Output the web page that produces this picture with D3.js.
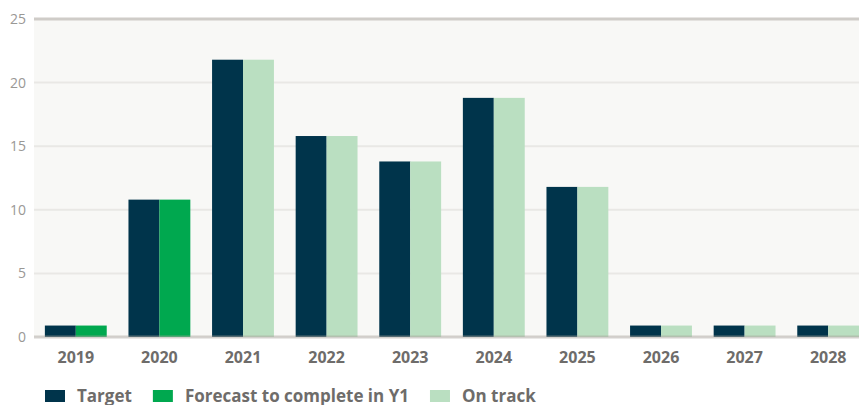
<!DOCTYPE html>
<html>
<head>
<meta charset="utf-8">
<script src="https://cdn.jsdelivr.net/npm/d3@7"></script>
<style>
  body { margin: 0; background: #fff; font-family: "Open Sans", "Noto Sans", sans-serif; }
  svg { display: block; }
</style>
</head>
<body>
<svg id="chart"></svg>
<script>
const years    = ["2019", "2020", "2021", "2022", "2023", "2024", "2025", "2026", "2027", "2028"];
const target   = [0.9, 10.8, 21.8, 15.8, 13.8, 18.8, 11.8, 0.9, 0.9, 0.9];
// second bar: "forecast" for 2019-2020, "on track" after
const second   = [0.9, 10.8, 21.8, 15.8, 13.8, 18.8, 11.8, 0.9, 0.9, 0.9];
const secondKey = ["forecast", "forecast", "track", "track", "track", "track", "track", "track", "track", "track"];
const yTicks   = [0, 5, 10, 15, 20, 25];

const colors = { target: "#00344b", forecast: "#00a84f", track: "#badfc1" };
const legendItems = [
  { key: "target",   label: "Target" },
  { key: "forecast", label: "Forecast to complete in Y1" },
  { key: "track",    label: "On track" },
];

const W = 859, H = 405;
const plotLeft = 34, plotTop = 19, plotBottom = 337;

const svg = d3.select("#chart").attr("width", W).attr("height", H);

const x = d3.scaleBand().domain(years).range([plotLeft, 870]).paddingInner(0.26).paddingOuter(0.13);
const x1 = d3.scaleBand().domain([0, 1]).range([0, x.bandwidth()]);
const y = d3.scaleLinear().domain([0, 25]).range([plotBottom, plotTop]);

svg.append("clipPath").attr("id", "clip")
  .append("rect").attr("x", plotLeft).attr("y", 0).attr("width", W - plotLeft).attr("height", H);

svg.append("rect")
  .attr("x", plotLeft).attr("y", y(25))
  .attr("width", W - plotLeft).attr("height", y(0) - y(25))
  .attr("fill", "#f8f8f6");

// grid lines
svg.append("g").selectAll("line")
  .data(yTicks.filter(t => t > 0 && t < 25))
  .join("line")
  .attr("x1", plotLeft).attr("x2", W)
  .attr("y1", d => y(d)).attr("y2", d => y(d))
  .attr("stroke", "#e9e8e5").attr("stroke-width", 2);

svg.append("line")
  .attr("x1", plotLeft).attr("x2", W)
  .attr("y1", y(25)).attr("y2", y(25))
  .attr("stroke", "#cfccc8").attr("stroke-width", 3);

// y tick labels
svg.append("g").selectAll("text")
  .data(yTicks)
  .join("text")
  .attr("x", 26).attr("y", d => y(d))
  .attr("dy", "0.35em")
  .attr("text-anchor", "end")
  .attr("fill", "#9a9895")
  .style("font-size", "14px")
  .text(d => d);

// bars
const groups = svg.append("g").attr("clip-path", "url(#clip)")
  .selectAll("g")
  .data(years)
  .join("g")
  .attr("transform", d => `translate(${x(d)},0)`);

groups.append("rect")
  .attr("x", x1(0)).attr("width", x1.bandwidth())
  .attr("y", (d, i) => y(target[i]))
  .attr("height", (d, i) => y(0) - y(target[i]))
  .attr("fill", colors.target);

groups.append("rect")
  .attr("x", x1(1)).attr("width", x1.bandwidth())
  .attr("y", (d, i) => y(second[i]))
  .attr("height", (d, i) => y(0) - y(second[i]))
  .attr("fill", (d, i) => colors[secondKey[i]]);

// baseline drawn over bars
svg.append("line")
  .attr("x1", plotLeft).attr("x2", W)
  .attr("y1", y(0)).attr("y2", y(0))
  .attr("stroke", "#a9a39d").attr("stroke-opacity", 0.5).attr("stroke-width", 3);

// x labels
svg.append("g").selectAll("text")
  .data(years)
  .join("text")
  .attr("x", d => x(d) + x.bandwidth() / 2)
  .attr("y", 363)
  .attr("text-anchor", "middle")
  .attr("fill", "#6e6c6a")
  .style("font-size", "16px")
  .style("font-weight", "bold")
  .text(d => d);

// legend
const legend = svg.append("g").attr("transform", "translate(45,390)");
let lx = 0;
legendItems.forEach(({ key, label }) => {
  const g = legend.append("g").attr("transform", `translate(${lx},0)`);
  g.append("rect").attr("width", 20).attr("height", 12).attr("fill", colors[key]);
  const t = g.append("text")
    .attr("x", 32).attr("y", 12)
    .attr("fill", "#6e6c6a")
    .style("font-size", "17px")
    .style("font-weight", "bold")
    .text(label);
  lx += 32 + t.node().getComputedTextLength() + 21;
});
</script>
</body>
</html>
